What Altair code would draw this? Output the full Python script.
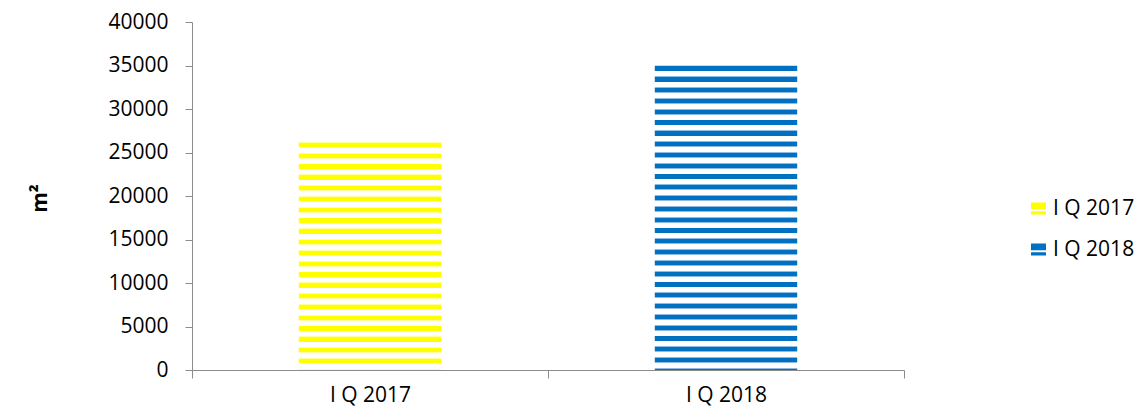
import altair as alt
import pandas as pd

categories = ["I Q 2017", "I Q 2018"]
values = [26200, 35000]
core_colors = ["#FFFF00", "#0070C0"]
edge_colors = ["#FFFF9E", "#8DBBE6"]
y_ticks = [0, 5000, 10000, 15000, 20000, 25000, 30000, 35000, 40000]

W, H = 712, 348
YMAX = 40000
PERIOD = 10.8
FONT = "Open Sans"
FS = 21
AXIS_COLOR = "#8C8C8C"

df = pd.DataFrame({"q": categories, "v": values})


def stripes(value, core, edge):
    h = value / YMAX * H
    stops = []

    def add(px, c):
        stops.append(alt.GradientStop(offset=round(min(px / h, 1.0), 5), color=c))

    y = 0.0
    segs = [(0, 0.8, edge), (0.8, 5.2, core), (5.2, 6.0, edge), (6.0, PERIOD, "#FFFFFF")]
    while y < h:
        for a, b, c in segs:
            if y + a >= h:
                break
            add(y + a, c)
            add(min(y + b, h), c)
        y += PERIOD
    return alt.LinearGradient(gradient="linear", stops=stops, x1=0, y1=0, x2=0, y2=1)


x_enc = alt.X(
    "q:N",
    scale=alt.Scale(domain=categories, paddingInner=0, paddingOuter=0),
    axis=alt.Axis(
        title=None, labelAngle=0, tickBand="extent", grid=False,
        domainColor=AXIS_COLOR, tickColor=AXIS_COLOR, tickSize=8,
        labelPadding=23, labelBaseline="alphabetic",
        labelFontSize=FS, labelColor="#000000", labelFont=FONT,
    ),
)
y_enc = alt.Y(
    "v:Q",
    scale=alt.Scale(domain=[0, YMAX], nice=False, zero=True),
    axis=alt.Axis(
        values=y_ticks, format="d", grid=False, title="m²", titleFontWeight="bold",
        titleFontSize=21, titleFont=FONT, titleColor="#000000",
        titleX=-152, titleY=176, titleAlign="center", titleBaseline="middle", titleAngle=270,
        domainColor=AXIS_COLOR, tickColor=AXIS_COLOR, tickSize=7,
        labelPadding=17, labelFontSize=FS, labelColor="#000000", labelFont=FONT,
    ),
)

base = alt.Chart(df).encode(x=x_enc, y=y_enc)

layers = []
for cat, val, core, edge in zip(categories, values, core_colors, edge_colors):
    layers.append(
        base.transform_filter(alt.datum.q == cat)
        .mark_bar(color=stripes(val, core, edge), width={"band": 0.4})
    )

stripe_path = "M-1,-0.8H1V-0.4H-1Z M-1,-0.4H1V0.1H-1Z M-1,0.35H1V0.8H-1Z"

legend_layer = base.mark_bar(width={"band": 0.4}, strokeWidth=0).encode(
    y2="v:Q",
    color=alt.Color(
        "q:N",
        scale=alt.Scale(domain=categories, range=core_colors),
        legend=alt.Legend(
            title=None, orient="none", legendX=836, legendY=176,
            direction="vertical", symbolType=stripe_path, symbolSize=225,
            symbolStrokeWidth=0, labelFontSize=FS, labelFont=FONT,
            labelColor="#000000", rowPadding=19, labelOffset=4,
        ),
    ),
)

chart = (
    alt.layer(*layers, legend_layer)
    .properties(
        width=W, height=H,
        autosize=alt.AutoSizeParams(type="none"),
        padding={"left": 184, "top": 14, "right": 232, "bottom": 38},
    )
    .configure(font=FONT, background="#FFFFFF")
    .configure_view(stroke=None)
)

chart.save("out.html", embed_options={"renderer": "svg", "actions": False})
